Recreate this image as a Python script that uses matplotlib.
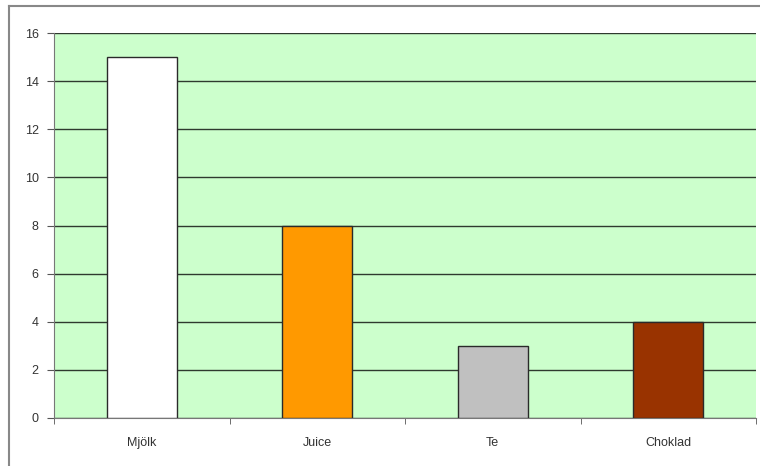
import matplotlib.pyplot as plt
from matplotlib.lines import Line2D

# ---------------------------------------------------
# Data
# ---------------------------------------------------

categories = ["Mjölk", "Juice", "Te", "Choklad"]
values = [15, 8, 3, 4]
bar_colors = ["#FFFFFF", "#FF9900", "#C0C0C0", "#993300"]
y_ticks = [0, 2, 4, 6, 8, 10, 12, 14, 16]

plt.rcParams["font.family"] = ["Liberation Sans", "DejaVu Sans"]

fig = plt.figure(figsize=(7.6, 4.66), dpi=100)
ax = fig.add_axes([54 / 760, 48 / 466, 702 / 760, 385 / 466])

ax.set_facecolor("#CCFFCC")

positions = list(range(len(categories)))

ax.bar(
    positions,
    values,
    width=0.4,
    color=bar_colors,
    edgecolor="#2a2a2a",
    linewidth=1.0,
    zorder=3
)

ax.set_xlim(-0.5, len(categories) - 0.5)
ax.set_ylim(0, 16)

ax.set_yticks(y_ticks)
ax.yaxis.grid(True, color="#2f3a2f", linewidth=1.0, zorder=1)
ax.set_axisbelow(True)

ax.set_xticks(positions)
ax.set_xticklabels(categories)
ax.set_xticks([p - 0.5 for p in positions] + [len(categories) - 0.5], minor=True)

ax.tick_params(axis="x", which="major", length=0, pad=14, labelsize=9, labelcolor="#333333")
ax.tick_params(axis="x", which="minor", length=4, color="#555555", direction="out")
ax.tick_params(axis="y", length=5, color="#555555", labelsize=9, labelcolor="#333333", pad=6)

for side in ["top", "right"]:
    ax.spines[side].set_visible(False)

ax.spines["left"].set_color("#777777")
ax.spines["bottom"].set_color("#777777")

# outer chart frame
fig.add_artist(Line2D([9 / 760, 9 / 760], [0, 1 - 6 / 466], color="#888888", linewidth=1.5))
fig.add_artist(Line2D([9 / 760, 1], [1 - 6 / 466, 1 - 6 / 466], color="#888888", linewidth=1.5))

plt.savefig("out.png", dpi=100)
plt.close()
